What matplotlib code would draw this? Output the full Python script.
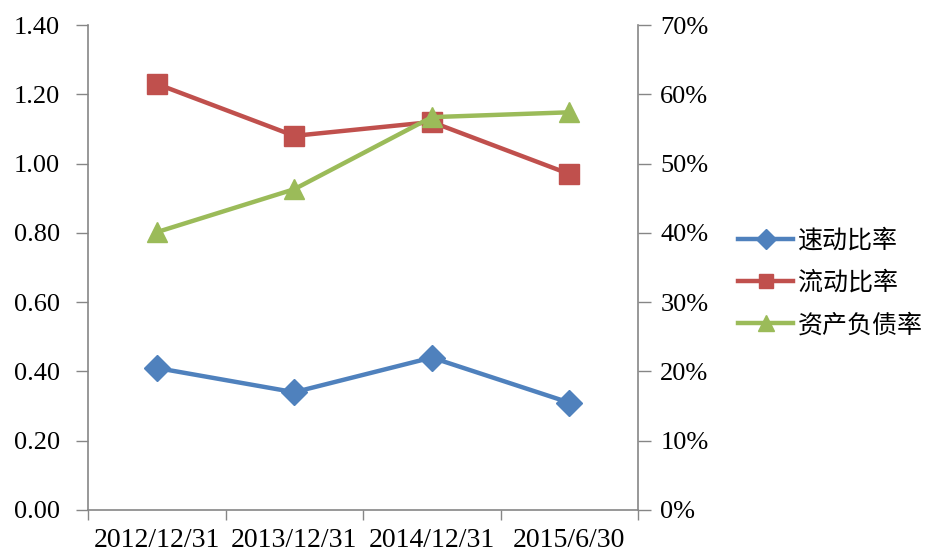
import matplotlib
matplotlib.use('Agg')
import matplotlib.pyplot as plt
from matplotlib.ticker import FixedLocator, FuncFormatter

# 数据
fechas = ['2012/12/31', '2013/12/31', '2014/12/31', '2015/6/30']
sudong = [0.41, 0.34, 0.44, 0.31]        # 速动比率
liudong = [1.23, 1.08, 1.12, 0.97]       # 流动比率
fuzhai = [40.1, 46.3, 56.7, 57.4]        # 资产负债率 (%)

azul = '#4F81BD'
rojo = '#C0504D'
verde = '#9BBB59'
gris = '#868686'

fig = plt.figure(figsize=(9.3, 5.52), dpi=100)
ax = fig.add_axes([88 / 930, 1 - 510 / 552, (638 - 88) / 930, (510 - 25) / 552])
ax2 = ax.twinx()

x = list(range(len(fechas)))
l1, = ax.plot(x, sudong, color=azul, lw=3.2, marker='D', ms=13, label='速动比率')
l2, = ax.plot(x, liudong, color=rojo, lw=3.2, marker='s', ms=14, label='流动比率')
l3, = ax2.plot(x, fuzhai, color=verde, lw=3.2, marker='^', ms=15, label='资产负债率')

ax.set_xlim(-0.5, len(fechas) - 0.5)
ax.set_ylim(0, 1.4)
ax2.set_ylim(0, 70)

ax.set_yticks([i * 0.2 for i in range(8)])
ax.yaxis.set_major_formatter(FuncFormatter(lambda v, p: f'{v:.2f}'))
ax2.set_yticks(list(range(0, 71, 10)))
ax2.yaxis.set_major_formatter(FuncFormatter(lambda v, p: f'{v:.0f}%'))

# 刻度在类别之间，标签在类别中央
ax.xaxis.set_major_locator(FixedLocator([i - 0.5 for i in range(len(fechas) + 1)]))
ax.xaxis.set_minor_locator(FixedLocator(x))
ax.set_xticklabels([])
ax.set_xticklabels(fechas, minor=True)
ax.tick_params(axis='x', which='minor', length=0, pad=13)
ax.tick_params(axis='x', which='major', length=7, width=1, color=gris)

serif = ['Liberation Serif', 'DejaVu Serif']
for lab in ax.get_xticklabels(minor=True):
    lab.set_family(serif)
    lab.set_fontsize(20)

ax.tick_params(axis='y', length=9, width=1, color=gris, pad=11, labelsize=19)
ax2.tick_params(axis='y', length=9, width=1, color=gris, pad=7, labelsize=19)
for lab in ax.get_yticklabels() + ax2.get_yticklabels():
    lab.set_family(serif)

for a in (ax, ax2):
    a.spines['top'].set_visible(False)
    for s in ('left', 'right', 'bottom'):
        a.spines[s].set_color(gris)
        a.spines[s].set_linewidth(1.2)
ax2.spines['left'].set_visible(False)
ax2.spines['bottom'].set_visible(False)
ax.spines['right'].set_visible(False)

leg = fig.legend([l1, l2, l3], ['速动比率', '流动比率', '资产负债率'],
                 loc='center left', bbox_to_anchor=(738 / 930, 1 - 283 / 552),
                 frameon=False, borderaxespad=0, borderpad=0, markerscale=0.75,
                 handlelength=2.2, handletextpad=0.2, labelspacing=0.65,
                 prop={'family': ['Noto Sans CJK SC', 'DejaVu Sans'], 'size': 18})

fig.savefig('out.png', dpi=100)
